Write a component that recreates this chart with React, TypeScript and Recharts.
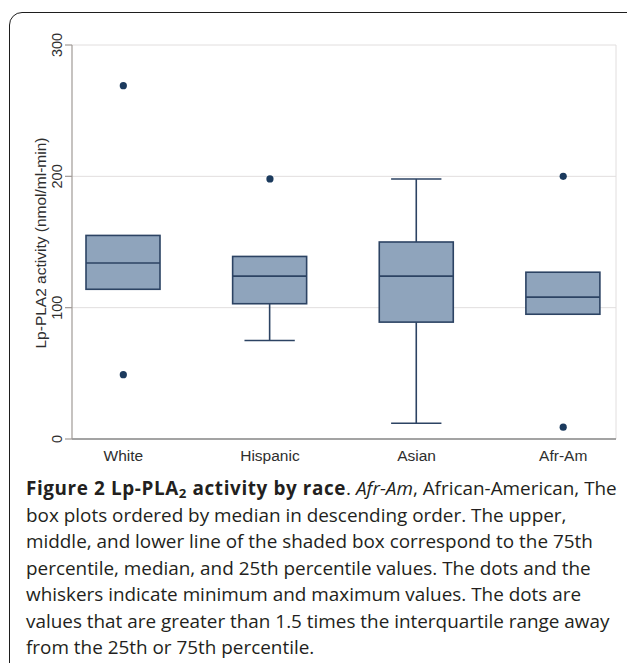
import React from 'react';
import { ComposedChart, Bar, Scatter, XAxis, YAxis, CartesianGrid, ReferenceLine } from 'recharts';

const categories = ['White', 'Hispanic', 'Asian', 'Afr-Am'];
const whiskerLow = [114, 75, 12, 95];
const q1 = [114, 103, 89, 95];
const median = [134, 124, 124, 108];
const q3 = [155, 139, 150, 127];
const whiskerHigh = [155, 139, 198, 127];
const outlierCategory = [1, 1, 2, 4, 4];
const outlierValue = [269, 49, 198, 200, 9];
const yTicks = [0, 100, 200, 300];

const boxData = categories.map((name, i) => ({
  x: i + 1,
  name,
  whiskerLow: whiskerLow[i],
  q1: q1[i],
  median: median[i],
  q3: q3[i],
  whiskerHigh: whiskerHigh[i],
  range: [whiskerLow[i], whiskerHigh[i]],
}));

const outlierData = outlierCategory.map((c, i) => ({ x: c, y: outlierValue[i] }));

const BOX_FILL = '#8fa4bc';
const BOX_STROKE = '#2c4363';
const DOT = '#1b3a5d';
const AXIS_FONT = '"Liberation Sans", Arial, sans-serif';
const AXIS_TEXT = '#2e2e2e';

const BoxShape = (props: any) => {
  const { x, y, width, height, payload } = props;
  const top = Math.min(y, y + height);
  const h = Math.abs(height);
  const lo = payload.whiskerLow;
  const hi = payload.whiskerHigh;
  const py = (v: number) => top + (h * (hi - v)) / (hi - lo);
  const cx = x + width / 2;
  const capHalf = width * 0.34;
  const sw = 1.6;
  return (
    <g>
      {hi > payload.q3 && (
        <g>
          <line x1={cx} x2={cx} y1={py(hi)} y2={py(payload.q3)} stroke={BOX_STROKE} strokeWidth={sw} />
          <line x1={cx - capHalf} x2={cx + capHalf} y1={py(hi)} y2={py(hi)} stroke={BOX_STROKE} strokeWidth={sw} />
        </g>
      )}
      {lo < payload.q1 && (
        <g>
          <line x1={cx} x2={cx} y1={py(payload.q1)} y2={py(lo)} stroke={BOX_STROKE} strokeWidth={sw} />
          <line x1={cx - capHalf} x2={cx + capHalf} y1={py(lo)} y2={py(lo)} stroke={BOX_STROKE} strokeWidth={sw} />
        </g>
      )}
      <rect
        x={x}
        y={py(payload.q3)}
        width={width}
        height={py(payload.q1) - py(payload.q3)}
        fill={BOX_FILL}
        stroke={BOX_STROKE}
        strokeWidth={sw}
      />
      <line x1={x} x2={x + width} y1={py(payload.median)} y2={py(payload.median)} stroke={BOX_STROKE} strokeWidth={sw} />
    </g>
  );
};

const YTick = (props: any) => {
  const { x, y, payload } = props;
  const cx = x - 6;
  return (
    <text
      x={cx}
      y={y}
      transform={`rotate(-90 ${cx} ${y})`}
      textAnchor="middle"
      dominantBaseline="central"
      fontFamily={AXIS_FONT}
      fontSize={14.5}
      fill={AXIS_TEXT}
    >
      {payload.value}
    </text>
  );
};

const XTick = (props: any) => {
  const { x, y, payload } = props;
  return (
    <text
      x={x}
      y={y + 8}
      textAnchor="middle"
      dominantBaseline="central"
      fontFamily={AXIS_FONT}
      fontSize={15.5}
      fill={AXIS_TEXT}
    >
      {categories[payload.value - 1]}
    </text>
  );
};

const YLabel = (props: any) => {
  const { viewBox } = props;
  const cx = 40;
  const cy = viewBox.y + viewBox.height / 2 + 1;
  return (
    <text
      x={cx}
      y={cy}
      transform={`rotate(-90 ${cx} ${cy})`}
      textAnchor="middle"
      dominantBaseline="central"
      fontFamily={AXIS_FONT}
      fontSize={15.5}
      fill={AXIS_TEXT}
    >
      Lp-PLA2 activity (nmol/ml-min)
    </text>
  );
};

const captionLine: React.CSSProperties = {
  whiteSpace: 'nowrap',
  height: 26.5,
  lineHeight: '26.5px',
};

export default function App() {
  return (
    <div
      style={{
        position: 'fixed',
        left: 0,
        top: 0,
        width: 627,
        height: 663,
        overflow: 'hidden',
        background: '#fff',
      }}
    >
      <div
        style={{
          position: 'absolute',
          left: 9,
          top: 12,
          width: 640,
          height: 720,
          border: '1.6px solid #1e1e1e',
          borderRadius: 13,
          boxSizing: 'border-box',
        }}
      />
      <div style={{ position: 'absolute', left: 0, top: 0 }}>
        <ComposedChart
          width={627}
          height={475}
          data={boxData}
          margin={{ top: 45, right: 11, left: 0, bottom: 6 }}
        >
          <CartesianGrid horizontal vertical={false} stroke="#e1dede" strokeWidth={1} />
          <ReferenceLine x={4.36} stroke="#e1dede" strokeWidth={1} />
          <XAxis
            dataKey="x"
            type="number"
            domain={[0.65, 4.36]}
            ticks={[1, 2, 3, 4]}
            allowDataOverflow
            height={30}
            tickLine={false}
            axisLine={{ stroke: '#8a8a8a', strokeWidth: 1.3 }}
            tick={<XTick />}
            interval={0}
          />
          <YAxis
            type="number"
            domain={[0, 300]}
            ticks={yTicks}
            width={72}
            tickSize={7}
            tickLine={{ stroke: '#a09a96', strokeWidth: 1.2 }}
            axisLine={{ stroke: '#a09a96', strokeWidth: 1.2 }}
            tick={<YTick />}
            label={{ content: <YLabel /> }}
            allowDataOverflow
          />
          <Bar dataKey="range" barSize={74} shape={<BoxShape />} isAnimationActive={false} />
          <Scatter data={outlierData} dataKey="y" fill={DOT} isAnimationActive={false}
            shape={(p: any) => <circle cx={p.cx} cy={p.cy} r={3.6} fill={DOT} />} />
        </ComposedChart>
      </div>
      <div
        style={{
          position: 'absolute',
          left: 26,
          top: 475,
          fontFamily: '"Open Sans", sans-serif',
          fontSize: 18.9,
          color: '#231f20',
        }}
      >
        <div style={captionLine}>
          <b style={{ letterSpacing: '0.6px' }}>
            Figure 2 Lp-PLA
            <span style={{ fontSize: '0.7em', display: 'inline-block', transform: 'translateY(3px)' }}>2</span>{' '}
            activity by race
          </b>
          . <i>Afr-Am</i>, African-American, The
        </div>
        <div style={captionLine}>box plots ordered by median in descending order. The upper,</div>
        <div style={captionLine}>middle, and lower line of the shaded box correspond to the 75th</div>
        <div style={captionLine}>percentile, median, and 25th percentile values. The dots and the</div>
        <div style={captionLine}>whiskers indicate minimum and maximum values. The dots are</div>
        <div style={captionLine}>values that are greater than 1.5 times the interquartile range away</div>
        <div style={captionLine}>from the 25th or 75th percentile.</div>
      </div>
    </div>
  );
}
